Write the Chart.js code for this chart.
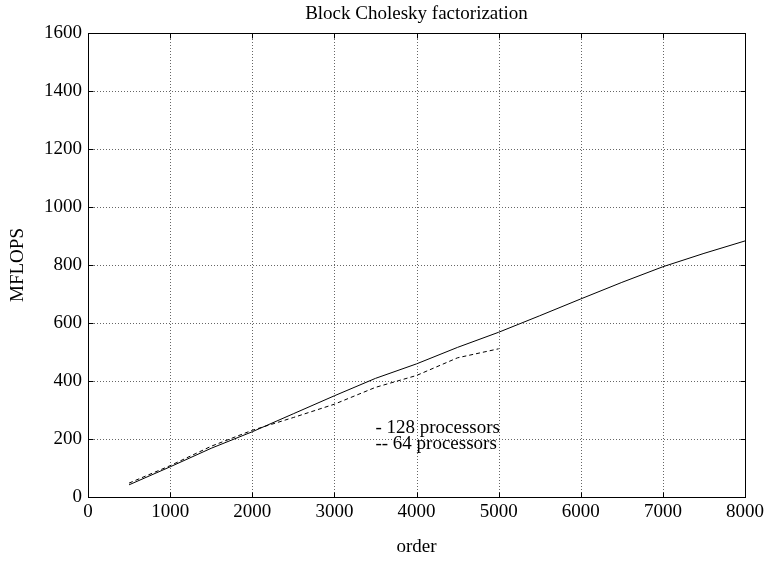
<!DOCTYPE html>
<html><head><meta charset="utf-8">
<script src="https://cdn.jsdelivr.net/npm/chart.js@4/dist/chart.umd.min.js"></script>
<style>html,body{margin:0;padding:0;background:#fff}#wrap{width:768px;height:563px}</style>
</head><body><div id="wrap"><canvas id="c" width="768" height="563"></canvas></div>
<script>
const titleText = 'Block Cholesky factorization';
const xTitle = 'order';
const yTitle = 'MFLOPS';
const legendLines = ['- 128 processors', '-- 64 processors'];
const orders128 = [500,1000,1500,2000,2500,3000,3500,4000,4500,5000,5500,6000,6500,7000,7500,8000];
const mflops128 = [42,104,168,225,287,349,409,459,516,568,625,683,740,794,840,883];
const orders64 = [500,1000,1500,2000,2500,3000,3500,4000,4500,5000];
const mflops64 = [48,108,175,230,274,320,378,419,480,511];
const xTickValues = [0,1000,2000,3000,4000,5000,6000,7000,8000];
const yTickValues = [0,200,400,600,800,1000,1200,1400,1600];

const SERIF = '"Liberation Serif", "Times New Roman", serif';
const FS = 19;

const framePlugin = {
  id: 'frame',
  beforeDatasetsDraw(chart) {
    const {ctx, chartArea: a, scales: {x, y}} = chart;
    ctx.save();
    ctx.lineWidth = 1;
    ctx.strokeStyle = '#666';
    ctx.setLineDash([1, 2]);
    xTickValues.forEach(v => {
      if (v === x.min || v === x.max) return;
      const px = Math.round(x.getPixelForValue(v)) + 0.5;
      ctx.beginPath(); ctx.moveTo(px, a.top); ctx.lineTo(px, a.bottom); ctx.stroke();
    });
    yTickValues.forEach(v => {
      if (v === y.min || v === y.max) return;
      const py = Math.round(y.getPixelForValue(v)) + 0.5;
      ctx.beginPath(); ctx.moveTo(a.left, py); ctx.lineTo(a.right, py); ctx.stroke();
    });
    ctx.setLineDash([]);
    ctx.strokeStyle = '#000';
    const L = Math.round(a.left) + 0.5, R = Math.round(a.right) + 0.5;
    const T = Math.round(a.top) + 0.5, B = Math.round(a.bottom) + 0.5;
    ctx.strokeRect(L, T, R - L, B - T);
    const tl = 5;
    xTickValues.forEach(v => {
      const px = Math.round(x.getPixelForValue(v)) + 0.5;
      ctx.beginPath(); ctx.moveTo(px, B); ctx.lineTo(px, B - tl); ctx.stroke();
      ctx.beginPath(); ctx.moveTo(px, T); ctx.lineTo(px, T + tl); ctx.stroke();
    });
    yTickValues.forEach(v => {
      const py = Math.round(y.getPixelForValue(v)) + 0.5;
      ctx.beginPath(); ctx.moveTo(L, py); ctx.lineTo(L + tl, py); ctx.stroke();
      ctx.beginPath(); ctx.moveTo(R, py); ctx.lineTo(R - tl, py); ctx.stroke();
    });
    ctx.restore();
  },
  afterDraw(chart) {
    const {ctx, chartArea: a, scales: {x, y}} = chart;
    ctx.save();
    ctx.fillStyle = '#000';
    ctx.font = FS + 'px ' + SERIF;
    ctx.textAlign = 'center';
    ctx.textBaseline = 'middle';
    const cx = (a.left + a.right) / 2;
    ctx.fillText(titleText, cx, 14);
    ctx.fillText(xTitle, cx, 547);
    ctx.save();
    ctx.translate(18, (a.top + a.bottom) / 2);
    ctx.rotate(-Math.PI / 2);
    ctx.fillText(yTitle, 0, 0);
    ctx.restore();
    ctx.textAlign = 'left';
    const lx = x.getPixelForValue(3500);
    ctx.fillText(legendLines[0], lx, y.getPixelForValue(238));
    ctx.fillText(legendLines[1], lx, y.getPixelForValue(182));
    ctx.restore();
  }
};

new Chart(document.getElementById('c'), {
  type: 'line',
  data: {
    datasets: [
      {
        label: '128 processors',
        data: orders128.map((o, i) => ({x: o, y: mflops128[i]})),
        borderColor: '#000', borderWidth: 1, pointRadius: 0, tension: 0, fill: false
      },
      {
        label: '64 processors',
        data: orders64.map((o, i) => ({x: o, y: mflops64[i]})),
        borderColor: '#000', borderWidth: 1, borderDash: [4, 3], pointRadius: 0, tension: 0, fill: false
      }
    ]
  },
  options: {
    responsive: false,
    animation: false,
    devicePixelRatio: 1,
    layout: {padding: {top: 33, right: 23, left: 0, bottom: 0}},
    plugins: {legend: {display: false}, tooltip: {enabled: false}, title: {display: false}},
    scales: {
      x: {
        type: 'linear', min: 0, max: 8000,
        afterBuildTicks: s => { s.ticks = xTickValues.map(v => ({value: v})); },
        afterFit: s => { s.height = 66; },
        grid: {display: false, drawTicks: false},
        border: {display: false},
        ticks: {color: '#000', font: {family: SERIF, size: FS}, padding: 4, maxRotation: 0, autoSkip: false,
                callback: v => String(v)}
      },
      y: {
        type: 'linear', min: 0, max: 1600,
        afterBuildTicks: s => { s.ticks = yTickValues.map(v => ({value: v})); },
        afterFit: s => { s.width = 88; },
        grid: {display: false, drawTicks: false},
        border: {display: false},
        ticks: {color: '#000', font: {family: SERIF, size: FS}, padding: 6, autoSkip: false,
                callback: v => String(v)}
      }
    }
  },
  plugins: [framePlugin]
});
</script>
</body></html>
